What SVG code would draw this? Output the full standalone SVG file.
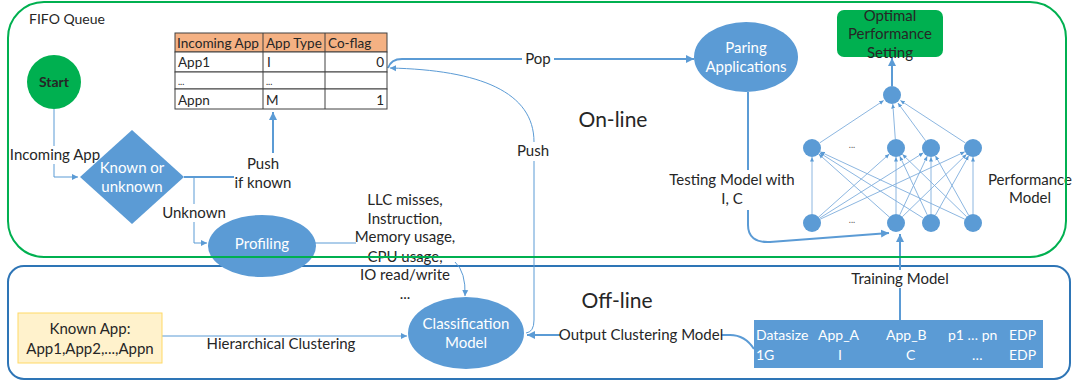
<svg xmlns="http://www.w3.org/2000/svg" width="1073" height="383" viewBox="0 0 1073 383">
<style>
text{font-family:Lato,"Liberation Sans",sans-serif;font-size:15px;fill:#262626}
.c{text-anchor:middle}
.w{fill:#ffffff}
.t{font-size:13.5px}
.node{fill:#5B9BD5}
.thick{fill:none;stroke:#5B9BD5;stroke-width:2}
.thin{fill:none;stroke:#5B9BD5;stroke-width:1}
.nn{fill:none;stroke:#7FAEDC;stroke-width:0.9}
.bg{fill:#ffffff}
.cell{fill:#ffffff;stroke:#404040;stroke-width:1}
</style>
<defs>
<marker id="a" markerUnits="userSpaceOnUse" markerWidth="9" markerHeight="9" refX="8" refY="4.5" orient="auto"><path d="M0,0.5 L8,4.5 L0,8.5 z" fill="#5B9BD5"/></marker>
<marker id="s" markerUnits="userSpaceOnUse" markerWidth="7" markerHeight="7" refX="6" refY="3.5" orient="auto"><path d="M0,0.5 L6,3.5 L0,6.5 z" fill="#5B9BD5"/></marker>
<marker id="n" markerUnits="userSpaceOnUse" markerWidth="5" markerHeight="5" refX="4.5" refY="2.5" orient="auto"><path d="M0,0.5 L4.5,2.5 L0,4.5 z" fill="#5B9BD5"/></marker>
</defs>

<g id="offline-region">
<rect x="8" y="266" width="1062" height="113" rx="16" fill="none" stroke="#2E75B6" stroke-width="2"/>
<text x="617" y="308" class="c" style="font-size:21px">Off-line</text>
</g>
<text x="613" y="127" class="c" style="font-size:21px">On-line</text>

<g id="connectors">
<path class="thin" d="M54,109 V177 H78" marker-end="url(#s)"/>
<path class="thick" d="M184,177 H273 V112" marker-end="url(#a)"/>
<path class="thin" d="M194,177 V243 H207" marker-end="url(#s)"/>
<path class="thin" d="M315,243 H356"/>
<path class="thin" d="M455,262 Q466,272 465,296" marker-end="url(#s)"/>
<path class="thick" d="M388,68 Q391,59 402,59 L694,59" marker-end="url(#a)"/>
<path class="thin" d="M526,333 Q534,332 534,320 L534,142 C534,92 480,70 390,68" marker-end="url(#s)"/>
<path class="thin" d="M162,336 H407" marker-end="url(#s)"/>
<path class="thick" d="M754,349 Q745,335 730,335 L527,335" marker-end="url(#a)"/>
<path class="thick" d="M748,92 V225 Q748,243 770,242 L889,233" marker-end="url(#a)"/>
<path class="thick" d="M900,322 V234" marker-end="url(#a)"/>
<path class="thick" d="M892,86 V58" marker-end="url(#a)"/>
<g class="nn">
<path d="M819.5,143 L883.7,100.5" marker-end="url(#n)"/>
<path d="M895.3,139 L892.8,104" marker-end="url(#n)"/>
<path d="M925.7,140.8 L897.9,103" marker-end="url(#n)"/>
<path d="M965.5,143 L900.4,100.5" marker-end="url(#n)"/>
<path d="M812,214 L812,157" marker-end="url(#n)"/>
<path d="M818.7,217 L889.3,154" marker-end="url(#n)"/>
<path d="M819.6,218.2 L923.4,152.8" marker-end="url(#n)"/>
<path d="M820.2,219.2 L964.8,151.8" marker-end="url(#n)"/>
<path d="M889.3,217 L818.7,154" marker-end="url(#n)"/>
<path d="M896,214 L896,157" marker-end="url(#n)"/>
<path d="M899.8,214.8 L927.2,156.2" marker-end="url(#n)"/>
<path d="M902.4,216.7 L966.6,154.3" marker-end="url(#n)"/>
<path d="M923.4,218.2 L819.6,152.8" marker-end="url(#n)"/>
<path d="M927.2,214.8 L899.8,156.2" marker-end="url(#n)"/>
<path d="M931,214 L931,157" marker-end="url(#n)"/>
<path d="M935.4,215.2 L968.6,155.8" marker-end="url(#n)"/>
<path d="M964.8,219.2 L820.2,151.8" marker-end="url(#n)"/>
<path d="M966.6,216.7 L902.4,154.3" marker-end="url(#n)"/>
<path d="M968.6,215.2 L935.4,155.8" marker-end="url(#n)"/>
<path d="M973,214 L973,157" marker-end="url(#n)"/>
</g>
</g>

<g id="connector-labels">
<rect class="bg" x="8" y="146" width="94" height="18"/>
<text x="55" y="160" class="c">Incoming App</text>
<rect class="bg" x="234" y="153" width="58" height="40"/>
<text x="263" y="169" class="c">Push</text>
<text x="263" y="188" class="c">if known</text>
<rect class="bg" x="162" y="204" width="64" height="18"/>
<text x="194" y="218" class="c">Unknown</text>
<text x="405" y="205" class="c">LLC misses,</text>
<text x="405" y="224" class="c">Instruction,</text>
<text x="405" y="242" class="c">Memory usage,</text>
<text x="405" y="262" class="c">CPU usage,</text>
<text x="405" y="280" class="c">IO read/write</text>
<text x="405" y="299" class="c">...</text>
<rect class="bg" x="522" y="51" width="32" height="17"/>
<text x="538" y="64" class="c">Pop</text>
<rect class="bg" x="515" y="142" width="38" height="19"/>
<text x="533" y="156" class="c">Push</text>
<text x="281" y="349" class="c">Hierarchical Clustering</text>
<rect class="bg" x="561" y="326" width="160" height="18"/>
<text x="641" y="340" class="c">Output Clustering Model</text>
<rect class="bg" x="668" y="170" width="130" height="40"/>
<text x="732" y="185" class="c">Testing Model with</text>
<text x="732" y="204" class="c">I, C</text>
<rect class="bg" x="850" y="270" width="102" height="18"/>
<text x="900" y="284" class="c">Training Model</text>
<text x="1030" y="185" class="c">Performance</text>
<text x="1030" y="203" class="c">Model</text>
</g>

<g id="start">
<circle cx="54" cy="82" r="27" fill="#00B050"/>
<text x="54" y="87" class="c" style="font-weight:bold;font-size:14px">Start</text>
</g>
<g id="fifo-table">
<rect x="175" y="33" width="212" height="19" fill="#F4B183" stroke="#404040"/>
<rect class="cell" x="175" y="52" width="212" height="20"/>
<rect class="cell" x="175" y="72" width="212" height="17"/>
<rect class="cell" x="175" y="89" width="212" height="20"/>
<path d="M263,33 V109 M325,33 V109" stroke="#404040" stroke-width="1"/>
<text x="177" y="48" class="t" textLength="82" lengthAdjust="spacingAndGlyphs">Incoming App</text>
<text x="266" y="48" class="t">App Type</text>
<text x="328" y="48" class="t">Co-flag</text>
<text x="178" y="67" class="t">App1</text>
<text x="267" y="67" class="t">I</text>
<text x="384" y="67" class="t" style="text-anchor:end">0</text>
<text x="178" y="85" style="font-size:9px">...</text>
<text x="266" y="85" style="font-size:9px">...</text>
<text x="178" y="105" class="t">Appn</text>
<text x="266" y="105" class="t">M</text>
<text x="384" y="105" class="t" style="text-anchor:end">1</text>
</g>
<g id="known-or-unknown">
<polygon class="node" points="132,130 184,177 132,224 80,177"/>
<text x="132" y="173" class="c w">Known or</text>
<text x="132" y="192" class="c w">unknown</text>
</g>
<g id="profiling">
<ellipse class="node" cx="262" cy="246" rx="54" ry="31"/>
<text x="262" y="249" class="c w">Profiling</text>
</g>
<g id="paring-applications">
<ellipse class="node" cx="746" cy="57" rx="52" ry="35"/>
<text x="746" y="53" class="c w">Paring</text>
<text x="746" y="72" class="c w">Applications</text>
</g>
<g id="optimal-performance-setting">
<rect x="837" y="10" width="106" height="47" rx="7" fill="#00B050"/>
<text x="890" y="21" class="c">Optimal</text>
<text x="890" y="39" class="c">Performance</text>
<text x="890" y="58" class="c">Setting</text>
</g>
<g id="neural-network">
<circle class="node" cx="892" cy="95" r="9"/>
<circle class="node" cx="812" cy="148" r="9"/>
<circle class="node" cx="896" cy="148" r="9"/>
<circle class="node" cx="931" cy="148" r="9"/>
<circle class="node" cx="973" cy="148" r="9"/>
<circle class="node" cx="812" cy="223" r="9"/>
<circle class="node" cx="896" cy="223" r="9"/>
<circle class="node" cx="931" cy="223" r="9"/>
<circle class="node" cx="973" cy="223" r="9"/>
<text x="852" y="148" class="c" style="font-size:9px;fill:#595959">...</text>
<text x="852" y="223" class="c" style="font-size:9px;fill:#595959">...</text>
</g>
<g id="known-app">
<rect x="18" y="313" width="144" height="50" fill="#FFF2CC" stroke="#FFD966"/>
<text x="90" y="334" class="c">Known App:</text>
<text x="90" y="354" class="c">App1,App2,...,Appn</text>
</g>
<g id="classification-model">
<ellipse class="node" cx="466" cy="333" rx="58" ry="36"/>
<text x="466" y="329" class="c w">Classification</text>
<text x="466" y="348" class="c w">Model</text>
</g>
<g id="training-data">
<rect class="node" x="754" y="320" width="289" height="48"/>
<text x="756" y="340" class="w" style="font-size:14px">Datasize</text>
<text x="818" y="340" class="w" style="font-size:14px">App_A</text>
<text x="886" y="340" class="w" style="font-size:14px">App_B</text>
<text x="948" y="340" class="w" style="font-size:14px">p1 … pn</text>
<text x="1009" y="340" class="w" style="font-size:14px">EDP</text>
<text x="756" y="360" class="w" style="font-size:14px">1G</text>
<text x="838" y="360" class="w" style="font-size:14px">I</text>
<text x="906" y="360" class="w" style="font-size:14px">C</text>
<text x="972" y="360" class="w" style="font-size:14px">…</text>
<text x="1009" y="360" class="w" style="font-size:14px">EDP</text>
</g>
<g id="online-region">
<rect x="8" y="2" width="1058" height="255" rx="36" fill="none" stroke="#00B050" stroke-width="2"/>
<text x="29" y="24" style="font-size:14px">FIFO Queue</text>
</g>
</svg>
